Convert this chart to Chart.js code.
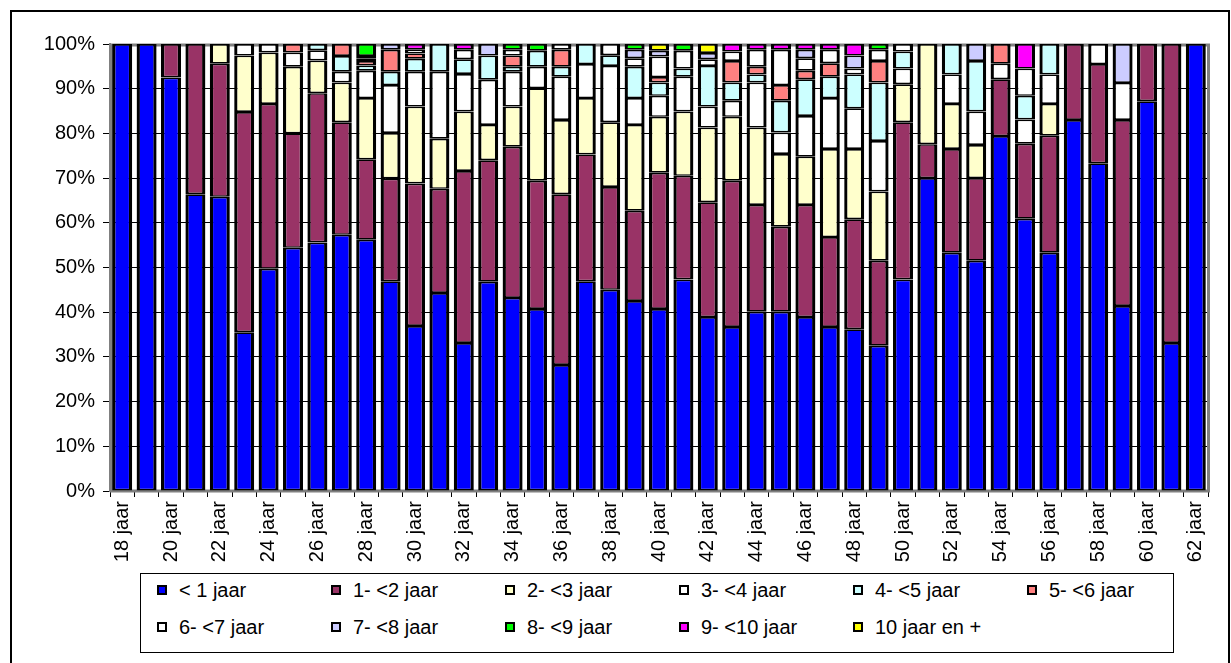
<!DOCTYPE html>
<html>
<head>
<meta charset="utf-8">
<script src="https://cdn.jsdelivr.net/npm/chart.js@4.4.1/dist/chart.umd.min.js"></script>
<style>
    body { margin: 0; background: #fff; font-family: 'Liberation Sans', Arial, sans-serif; }
    #wrap { position: relative; width: 1231px; height: 663px; overflow: hidden; }
    #frame { position: absolute; left: 10px; top: 10px; width: 1216px; height: 670px; border: 2px solid #000; pointer-events: none; }
    #legend { position: absolute; left: 140px; top: 573px; width: 1032px; height: 78px; border: 1px solid #000; background: #fff; }
    .item { position: absolute; height: 24px; display: flex; align-items: center; font-size: 20px; color: #000; white-space: nowrap; }
    .swatch { width: 6px; height: 6px; border: 2px solid #000; margin-right: 12px; }
</style>
</head>
<body>
<div id="wrap">
    <canvas id="chart" width="1231" height="663"></canvas>
    <div id="frame"></div>
    <div id="legend"></div>
</div>
<script>
// ── Data ─────────────────────────────────────────────────────────────────────

const AGES = [];
for (let a = 18; a <= 62; a++) AGES.push(a + ' jaar');

const SERIES = ['< 1 jaar', '1- <2 jaar', '2- <3 jaar', '3- <4 jaar', '4- <5 jaar', '5- <6 jaar',
    '6- <7 jaar', '7- <8 jaar', '8- <9 jaar', '9- <10 jaar', '10 jaar en +'];

const COLORS = ['#0000FF', '#993366', '#FFFFCC', '#FFFFFF', '#CCFFFF', '#FF8080',
    '#FFFFFF', '#CCCCFF', '#00FF00', '#FF00FF', '#FFFF00'];

// percentages per age, 18 .. 62
const lt1 = [100, 100, 92.5, 66.4, 65.8, 35.5, 49.7, 54.4, 55.6, 57.3, 56.2, 46.9, 36.9, 44.3, 33.1,
    46.8, 43.2, 40.7, 28.2, 46.9, 45.0, 42.5, 40.7, 47.3, 38.9, 36.7, 40.1, 40.1, 38.9, 36.7, 36.2,
    32.5, 47.3, 70.0, 53.3, 51.5, 79.4, 60.9, 53.3, 83.0, 73.3, 41.4, 87.2, 33.1, 100];
const y1to2 = [0, 0, 7.5, 33.6, 29.8, 49.3, 36.9, 25.6, 33.4, 25.2, 18.0, 23.0, 31.9, 23.3, 38.5,
    27.2, 33.8, 28.7, 38.2, 28.4, 23.0, 20.2, 30.5, 23.2, 25.7, 32.7, 23.9, 19.0, 25.1, 20.1, 24.6,
    19.0, 35.2, 7.6, 23.2, 18.5, 12.7, 16.8, 26.2, 17.0, 22.2, 41.6, 12.8, 66.9, 0];
const y2to3 = [0, 0, 0, 0, 4.4, 12.6, 11.5, 14.9, 7.3, 8.9, 13.7, 10.2, 17.2, 11.2, 13.3,
    7.9, 9.0, 20.7, 16.6, 12.6, 14.5, 19.2, 12.5, 14.4, 16.7, 14.3, 17.3, 16.3, 10.8, 19.7, 15.7,
    15.5, 8.5, 22.4, 10.1, 7.4, 0, 0, 7.1, 0, 0, 0, 0, 0, 0];
const y3to4 = [0, 0, 0, 0, 0, 2.6, 1.9, 3.2, 2.3, 2.4, 6.1, 10.7, 7.8, 15.0, 8.4,
    10.1, 7.8, 4.8, 9.7, 7.6, 12.6, 6.0, 4.7, 7.8, 4.7, 3.6, 10.1, 4.8, 9.1, 11.4, 9.1,
    11.3, 3.5, 0, 6.6, 7.5, 3.5, 5.4, 6.6, 0, 4.5, 8.3, 0, 0, 0];
const y4to5 = [0, 0, 0, 0, 0, 0, 0, 0, 1.4, 3.5, 1.2, 3.0, 2.9, 6.2, 3.3,
    5.4, 1.1, 3.6, 2.2, 4.5, 2.4, 7.0, 3.0, 1.8, 9.1, 4.1, 1.8, 7.1, 8.2, 4.8, 7.6,
    13.1, 3.8, 0, 6.8, 11.3, 0, 5.3, 6.8, 0, 0, 0, 0, 0, 0];
const y5to6 = [0, 0, 0, 0, 0, 0, 0, 1.9, 0, 2.7, 1.0, 4.9, 1.2, 0, 0,
    0, 2.5, 0, 3.8, 0, 0, 0, 1.2, 0, 0, 4.8, 1.7, 3.5, 1.9, 3.0, 0,
    4.8, 0, 0, 0, 0, 4.4, 0, 0, 0, 0, 0, 0, 0, 0];
const y6to7 = [0, 0, 0, 0, 0, 0, 0, 0, 0, 0, 0.5, 0, 0.9, 0, 2.1,
    0, 1.3, 0, 1.3, 0, 2.5, 1.9, 4.6, 4.0, 1.5, 2.1, 3.8, 7.9, 2.8, 3.0, 1.3,
    2.5, 1.7, 0, 0, 0, 0, 6.1, 0, 0, 0, 0, 0, 0, 0];
const y7to8 = [0, 0, 0, 0, 0, 0, 0, 0, 0, 0, 0.6, 1.3, 0, 0, 0,
    2.6, 0, 0, 0, 0, 0, 1.9, 1.3, 0, 1.4, 0, 0, 0, 1.9, 0, 2.9,
    0, 0, 0, 0, 3.8, 0, 0, 0, 0, 0, 8.7, 0, 0, 0];
const y8to9 = [0, 0, 0, 0, 0, 0, 0, 0, 0, 0, 2.7, 0, 0, 0, 0,
    0, 1.3, 1.5, 0, 0, 0, 1.3, 0, 1.5, 0, 0, 0, 0, 0, 0, 0,
    1.3, 0, 0, 0, 0, 0, 0, 0, 0, 0, 0, 0, 0, 0];
const y9to10 = [0, 0, 0, 0, 0, 0, 0, 0, 0, 0, 0, 0, 1.2, 0, 1.3,
    0, 0, 0, 0, 0, 0, 0, 0, 0, 0, 1.7, 1.3, 1.3, 1.3, 1.3, 2.6,
    0, 0, 0, 0, 0, 0, 5.5, 0, 0, 0, 0, 0, 0, 0];
const y10plus = [0, 0, 0, 0, 0, 0, 0, 0, 0, 0, 0, 0, 0, 0, 0,
    0, 0, 0, 0, 0, 0, 0, 1.5, 0, 2.0, 0, 0, 0, 0, 0, 0,
    0, 0, 0, 0, 0, 0, 0, 0, 0, 0, 0, 0, 0, 0];

const VALUES = [lt1, y1to2, y2to3, y3to4, y4to5, y5to6, y6to7, y7to8, y8to9, y9to10, y10plus];

const FONT = { family: "'Liberation Sans', Arial, sans-serif", size: 20 };

// gray plot-area border, drawn under the bars
const plotBorder = {
    id: 'plotBorder',
    beforeDatasetsDraw(chart) {
        const { ctx, chartArea: a } = chart;
        ctx.save();
        ctx.strokeStyle = '#808080';
        ctx.lineWidth = 3;
        ctx.strokeRect(a.left + 1.5, a.top + 1, a.right - a.left - 1, a.bottom - a.top - 1);
        ctx.restore();
    }
};

new Chart(document.getElementById('chart'), {
    type: 'bar',
    data: {
        labels: AGES,
        datasets: SERIES.map((name, i) => ({
            label: name,
            data: VALUES[i],
            backgroundColor: COLORS[i],
            borderColor: '#000',
            borderWidth: { top: 1.7, bottom: 1.7, left: 3.3, right: 3.3 },
            borderSkipped: false,
            barPercentage: 0.82,
            categoryPercentage: 1
        }))
    },
    options: {
        responsive: false,
        animation: false,
        layout: { padding: { left: 0, top: 44, right: 23, bottom: 92 } },
        plugins: { legend: { display: false }, tooltip: { enabled: false } },
        scales: {
            x: {
                stacked: true,
                grid: { offset: true, drawOnChartArea: false, color: '#000', tickLength: 6 },
                border: { color: '#808080', width: 2 },
                ticks: {
                    autoSkip: false, minRotation: 90, maxRotation: 90, padding: 4,
                    color: '#000', font: FONT,
                    callback: (v, i) => i % 2 === 0 ? AGES[i] : ''
                },
                afterFit: s => { s.height = 80; }
            },
            y: {
                stacked: true,
                min: 0,
                max: 100,
                grid: { color: '#000', tickLength: 7 },
                border: { color: '#808080', width: 2 },
                ticks: { stepSize: 10, padding: 8, color: '#000', font: FONT, callback: v => v + '%' },
                afterFit: s => { s.width = 110; }
            }
        }
    },
    plugins: [plotBorder]
});

// ── Legend (6 columns, 2 rows) ───────────────────────────────────────────────

const legend = document.getElementById('legend');
SERIES.forEach((name, i) => {
    const item = document.createElement('div');
    item.className = 'item';
    item.style.left = (16 + (i % 6) * 174) + 'px';
    item.style.top = (i < 6 ? 4 : 41) + 'px';
    item.innerHTML = `<span class="swatch" style="background:${COLORS[i]}"></span><span>${name.replace(/</g, '&lt;')}</span>`;
    legend.appendChild(item);
});
</script>
</body>
</html>
